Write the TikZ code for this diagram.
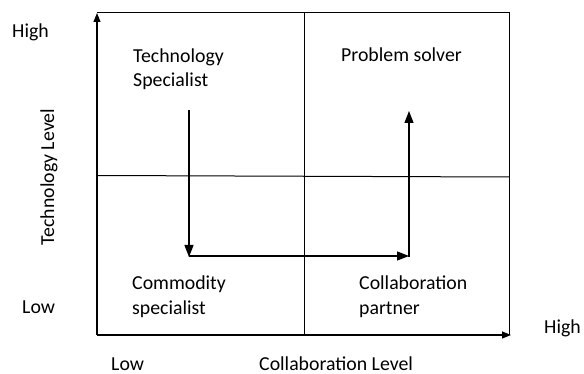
\documentclass[tikz,border=0pt]{standalone}
\usepackage{fontspec}
\setmainfont{Carlito}
\usetikzlibrary{arrows.meta}
\begin{document}
\begin{tikzpicture}[x=1pt,y=-1pt,
  lbl/.style={font=\fontsize{19.8}{24.5}\selectfont, inner sep=0pt, align=left},
  grid/.style={line width=1pt},
  axisarrow/.style={line width=1.2pt, -{Triangle[width=7pt,length=9pt]}},
  flowarrow/.style={line width=1.3pt, -{Triangle[width=9pt,length=12pt]}}]
\useasboundingbox (0,0) rectangle (584,374);
% frame corners
\coordinate (o) at (97,335);
\coordinate (ytop) at (97,13);
\coordinate (tr) at (509,13);
\coordinate (br) at (509,335);
\coordinate (xend) at (511,335);
\coordinate (mt) at (304,13);
\coordinate (mb) at (304,335);
\coordinate (ml) at (97,175.5);
\coordinate (mr) at (509,177);
% flow path points
\coordinate (a1) at (189,110);
\coordinate (a2) at (189,257);
\coordinate (b1) at (189,256);
\coordinate (b2) at (409,256);
\coordinate (c1) at (409,256.6);
\coordinate (c2) at (409,111);
% grid
\draw[grid] (ytop) -- (tr) -- (br);
\draw[grid] (mt) -- (mb);
\draw[grid] (ml) -- (mr);
% axes
\draw[axisarrow] (o) -- (ytop);
\draw[axisarrow] (o) -- (xend);
% flow arrows
\draw[flowarrow] (a1) -- (a2);
\draw[flowarrow] (b1) -- (b2);
\draw[flowarrow] (c1) -- (c2);
% labels
\node[lbl, anchor=base west] (high1) at (12,38) {High};
\node[lbl, anchor=base west] (low1) at (22,313) {Low};
\node[lbl, anchor=base west] (low2) at (111,370) {Low};
\node[lbl, anchor=base west] (high2) at (544,334) {High};
\node[lbl, anchor=base west] (xlab) at (259,370) {Collaboration Level};
\node[lbl, rotate=90] (ylab) at (49,177) {Technology Level};
\node[lbl, anchor=base west] (ts) at (133,87) {Technology\\Specialist};
\node[lbl, anchor=base west] (ps) at (341,62) {Problem solver};
\node[lbl, anchor=base west] (cs) at (132,314) {Commodity\\specialist};
\node[lbl, anchor=base west] (cp) at (359,314) {Collaboration\\partner};
\end{tikzpicture}
\end{document}
